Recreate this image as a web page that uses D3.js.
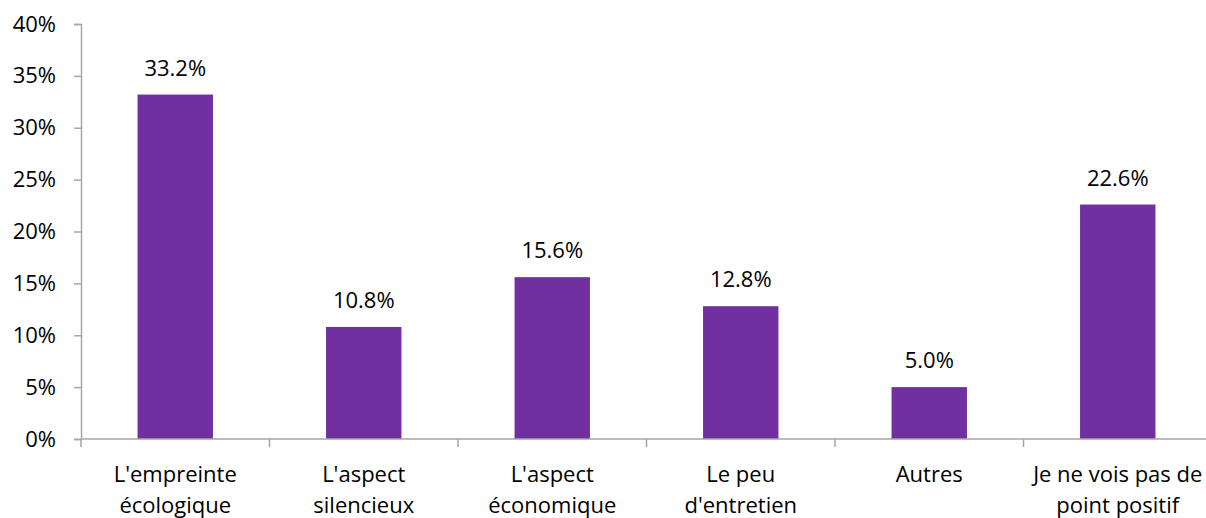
<html lang="fr">
  <head>
    <meta charset="UTF-8" />
    <title>Points positifs</title>
    <script src="https://d3js.org/d3.v7.min.js"></script>
  </head>
  <style>
    body {
      margin: 0px;
      overflow: hidden;
      background: #fff;
    }
    text {
      font-family: "Open Sans", "Noto Sans", sans-serif;
      fill: #000;
    }
  </style>
  <body>
    <svg width="1206" height="518"></svg>
    <script>
      var categories = [
        ["L'empreinte", "écologique"],
        ["L'aspect", "silencieux"],
        ["L'aspect", "économique"],
        ["Le peu", "d'entretien"],
        ["Autres"],
        ["Je ne vois pas de", "point positif"]
      ];
      var values = [33.2, 10.8, 15.6, 12.8, 5.0, 22.6];
      var yTicks = [0, 5, 10, 15, 20, 25, 30, 35, 40];

      var svg = d3.select("svg");
      var axisColor = "#a6a6a6";
      var margin = { left: 81, top: 24, bottom: 439 };
      var bandW = 188.5;
      var fontSize = 22;
      var keys = categories.map(function (d, i) { return i; });

      var xScale = d3
        .scaleBand()
        .domain(keys)
        .range([margin.left, margin.left + bandW * keys.length])
        .paddingInner(0.6)
        .paddingOuter(0.3);

      var yScale = d3
        .scaleLinear()
        .domain([0, 40])
        .range([margin.bottom, margin.top]);

      // y axis
      var yAxis = svg
        .append("g")
        .attr("transform", `translate(${margin.left}, 0)`)
        .call(
          d3.axisLeft(yScale)
            .tickValues(yTicks)
            .tickSize(7)
            .tickPadding(18)
            .tickFormat(function (d) { return d + "%"; })
        );
      yAxis.select(".domain").attr("stroke", axisColor).attr("stroke-width", 1.5);
      yAxis.selectAll(".tick line").attr("stroke", axisColor).attr("stroke-width", 1.5);
      yAxis.selectAll(".tick text")
        .attr("font-size", fontSize)
        .attr("font-family", "'Open Sans', sans-serif")
        .attr("fill", "#000");

      // bars
      svg
        .selectAll("rect.bar")
        .data(values)
        .enter()
        .append("rect")
        .attr("class", "bar")
        .attr("x", function (d, i) { return xScale(i); })
        .attr("y", function (d) { return yScale(d); })
        .attr("width", xScale.bandwidth())
        .attr("height", function (d) { return yScale(0) - yScale(d); })
        .attr("fill", "#7030a0");

      // x axis line and ticks between categories
      var x0 = margin.left, x1 = margin.left + bandW * keys.length;
      svg.append("line")
        .attr("x1", x0).attr("x2", x1)
        .attr("y1", yScale(0)).attr("y2", yScale(0))
        .attr("stroke", axisColor).attr("stroke-width", 1.5);
      svg.selectAll("line.sep")
        .data(d3.range(keys.length + 1))
        .enter()
        .append("line")
        .attr("class", "sep")
        .attr("x1", function (i) { return x0 + i * bandW; })
        .attr("x2", function (i) { return x0 + i * bandW; })
        .attr("y1", yScale(0))
        .attr("y2", yScale(0) + 8)
        .attr("stroke", axisColor).attr("stroke-width", 1.5);

      // value labels
      svg
        .selectAll("text.val")
        .data(values)
        .enter()
        .append("text")
        .attr("class", "val")
        .attr("x", function (d, i) { return xScale(i) + xScale.bandwidth() / 2; })
        .attr("y", function (d) { return yScale(d) - 19; })
        .attr("text-anchor", "middle")
        .attr("font-size", fontSize)
        .text(function (d) { return d.toFixed(1) + "%"; });

      // category labels
      var cat = svg
        .selectAll("text.cat")
        .data(categories)
        .enter()
        .append("text")
        .attr("class", "cat")
        .attr("text-anchor", "middle")
        .attr("font-size", fontSize);
      cat.selectAll("tspan")
        .data(function (d, i) { return d.map(function (t) { return { t: t, i: i }; }); })
        .enter()
        .append("tspan")
        .attr("x", function (d) { return xScale(d.i) + xScale.bandwidth() / 2; })
        .attr("y", function (d, j) { return 482 + j * 31; })
        .text(function (d) { return d.t; });
    </script>
  </body>
</html>
